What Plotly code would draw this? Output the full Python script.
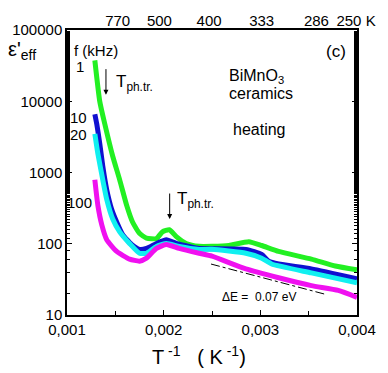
import plotly.graph_objects as go

# inverse temperature (1/K) and effective permittivity
x_1k = [0.001288, 0.001339, 0.001391, 0.001473, 0.001545, 0.001617, 0.001678, 0.00175,
        0.001822, 0.001925, 0.001987, 0.002059, 0.002131, 0.002233, 0.002367, 0.0025,
        0.002675, 0.002881, 0.003014, 0.003189, 0.003528, 0.003775, 0.004]
eps_1k = [37500, 9930, 4790, 1690, 789, 347, 202, 140,
          120, 118, 147, 157, 126, 101, 92, 92,
          94.5, 107, 94.5, 78, 61, 48.7, 43]

x_10k = [0.001288, 0.001308, 0.001339, 0.00137, 0.001411, 0.001462, 0.001514, 0.001576,
         0.001668, 0.00175, 0.001822, 0.001925, 0.002028, 0.002131, 0.002264, 0.002367,
         0.00285, 0.003014, 0.003086, 0.003189, 0.003528, 0.004]
eps_10k = [6580, 4790, 2540, 1230, 574, 305, 202, 134,
           97.7, 83.4, 86, 101, 114, 101, 91.6, 86,
           83.4, 71, 57, 52, 44.3, 32.3]

x_20k = [0.001288, 0.001319, 0.00137, 0.001411, 0.001473, 0.001545, 0.001647, 0.00175,
         0.001822, 0.001925, 0.002028, 0.002161, 0.002367, 0.0025, 0.00285, 0.003014,
         0.003117, 0.003528, 0.004]
eps_20k = [3490, 1850, 789, 419, 222, 147, 101, 73.5,
           73.5, 91.6, 101, 91.6, 83.4, 83.4, 73.5, 62.7,
           51.9, 39, 28.4]

x_100k = [0.001288, 0.001319, 0.00136, 0.001411, 0.001514, 0.001647, 0.00175, 0.001822,
          0.001925, 0.002028, 0.002161, 0.002367, 0.0025, 0.00285, 0.003189, 0.003528,
          0.003806, 0.004]
eps_100k = [789, 347, 184, 114, 78, 61, 57, 62.7,
            86, 97.7, 86, 73.5, 66.8, 44.3, 33.3, 25.8,
            22.1, 17.7]

# activation energy guide line
x_de = [0.00249, 0.00368]
eps_de = [51.9, 19.4]

x_ticks = [0.001, 0.002, 0.003, 0.004]
x_ticktext = ["0,001", "0,002", "0,003", "0,004"]
y_ticks = [10, 100, 1000, 10000, 100000]
y_ticktext = ["10", "100", "1000", "10000", "100000"]
top_ticks = [0.001524, 0.001956, 0.00247, 0.003014, 0.00358, 0.00399]
top_ticktext = ["770", "500", "400", "333", "286", "250 K"]

# phase transition arrows: x position (1/K)
x_arrows = [0.001403, 0.002062]

FONT = "Liberation Sans, Arial, sans-serif"
L, R, T, B = 67, 29, 24, 58
W, H = 388, 373


def px(x):
    return (x - L) / (W - L - R)


def py(y):
    return 1 - (y - T) / (H - T - B)


fig = go.Figure()
series = [
    (x_1k, eps_1k, "#22f022"),
    (x_10k, eps_10k, "#1010d0"),
    (x_20k, eps_20k, "#10f0f0"),
    (x_100k, eps_100k, "#f010f0"),
]
for xs, ys, col in series:
    fig.add_trace(go.Scatter(x=xs, y=ys, mode="lines",
                             line=dict(color=col, width=5, shape="spline", smoothing=0.5),
                             showlegend=False, hoverinfo="skip"))

fig.add_trace(go.Scatter(x=x_de, y=eps_de, mode="lines", line=dict(color="black", width=1, dash="dashdot"),
                         showlegend=False, hoverinfo="skip"))

# invisible trace so the top axis is drawn
fig.add_trace(go.Scatter(x=[0.002], y=[100], xaxis="x2", mode="markers", marker=dict(opacity=0),
                         showlegend=False, hoverinfo="skip"))

fig.update_layout(
    width=W, height=H,
    margin=dict(l=L, r=R, t=T, b=B),
    paper_bgcolor="white", plot_bgcolor="white",
    font=dict(family=FONT, size=15, color="black"),
    xaxis=dict(range=[0.001, 0.004], tickvals=x_ticks, ticktext=x_ticktext,
               ticks="inside", ticklen=5, tickcolor="black", showline=True, linecolor="black", linewidth=1.5,
               mirror=True, showgrid=False, zeroline=False,
               minor=dict(dtick=0.0005, ticks="inside", ticklen=4, tickcolor="black")),
    yaxis=dict(type="log", range=[1, 5], tickvals=y_ticks, ticktext=y_ticktext,
               ticks="inside", ticklen=5, tickcolor="black", showline=True, linecolor="black", linewidth=1.5,
               mirror="ticks", showgrid=False, zeroline=False,
               minor=dict(ticks="inside", ticklen=3, tickcolor="black", showgrid=False)),
    xaxis2=dict(overlaying="x", side="top", range=[0.001, 0.004], tickvals=top_ticks, ticktext=top_ticktext,
                ticks="", showline=False, showgrid=False, zeroline=False, anchor="y"),
)

ann = [
    (72, 45, "f (kHz)", "left", 15),
    (86, 61, "1", "right", 15),
    (89, 113, "10", "right", 15),
    (89, 131, "20", "right", 15),
    (94, 200, "100", "right", 15),
    (350, 46, "(c)", "right", 17),
    (228, 71, "BiMnO<sub>3</sub>", "left", 16),
    (228, 89, "ceramics", "left", 16),
    (232, 126, "heating", "left", 16),
    (114, 78, "T<sub>ph.tr.</sub>", "left", 17),
    (176, 198, "T<sub>ph.tr.</sub>", "left", 17),
    (221, 297, "\u0394E =  0.07 eV", "left", 12),
    (6, 45, "\u03b5'<sub>eff</sub>", "left", 20),
    (200, 356, "T<sup> -1</sup>   ( K<sup> -1</sup>)", "center", 20),
]
for xp, yp, text, anchor, size in ann:
    fig.add_annotation(x=px(xp), y=py(yp), xref="paper", yref="paper", text=text, showarrow=False,
                       xanchor=anchor, yanchor="middle",
                       font=dict(family=FONT, size=size, color="black"))

# transition arrows
for xa, (y0, y1) in zip(x_arrows, [(63, 90), (190, 217)]):
    fig.add_annotation(x=xa, y=py(y1), xref="x", yref="paper", ax=0, ay=-(y1 - y0),
                       axref="pixel", ayref="pixel", text="", showarrow=True,
                       arrowhead=2, arrowsize=1, arrowwidth=1, arrowcolor="black")

# the page's default body margin would push the figure 8 px off the window
fig.write_html("out.html", config={"displayModeBar": False},
               post_script="document.body.style.margin='0';")
